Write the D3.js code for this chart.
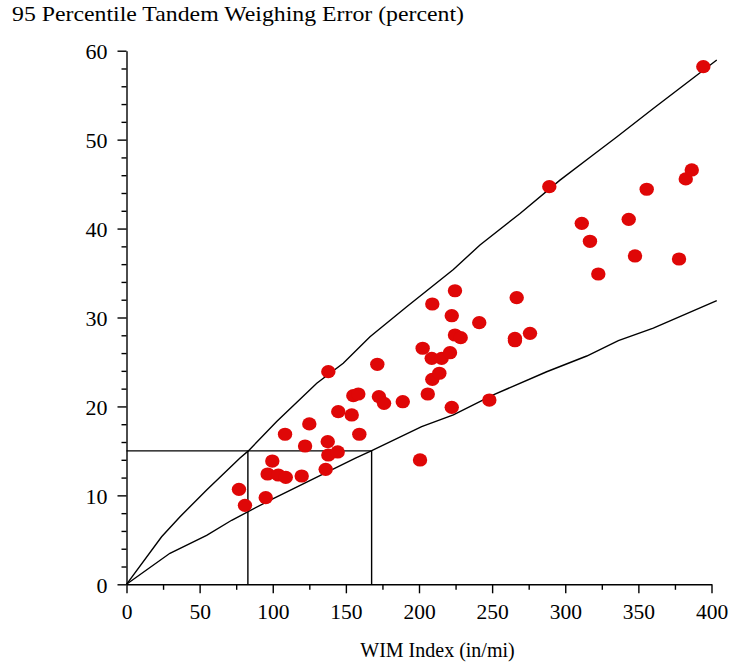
<!DOCTYPE html>
<html>
<head>
<meta charset="utf-8">
<script src="https://cdn.jsdelivr.net/npm/d3@7"></script>
<style>
  body { margin: 0; background: #fff; }
  text { font-family: "Liberation Serif", "Times New Roman", serif; fill: #000; }
</style>
</head>
<body>
<div class="chart"></div>
<script>
// measured points
var wimIndex = [76.9, 81.0, 95.2, 99.7, 96.5, 103.8, 108.9, 119.8, 122.1, 136.2,
  138.0, 144.4, 137.6, 108.4, 125.0, 144.8, 154.0, 155.1, 158.5, 159.2,
  138.0, 171.5, 172.6, 176.1, 188.9, 202.5, 200.7, 206.0, 209.1, 213.9,
  208.7, 215.5, 221.2, 209.1, 222.4, 224.6, 224.6, 228.5, 222.4, 241.2,
  248.1, 266.8, 265.6, 265.6, 275.9, 289.1, 311.3, 316.9, 322.6, 343.4,
  347.7, 355.7, 377.8, 382.4, 386.5, 394.4];
var errorPct = [10.68, 8.88, 9.74, 13.86, 12.40, 12.29, 12.03, 12.18, 15.55, 12.93,
  14.54, 14.88, 16.04, 16.87, 18.03, 19.41, 19.04, 21.21, 21.40, 16.87,
  23.91, 24.74, 21.10, 20.35, 20.53, 26.54, 13.98, 21.40, 23.05, 23.73,
  25.41, 25.41, 26.04, 31.52, 30.20, 33.01, 28.03, 27.73, 19.90, 29.42,
  20.72, 32.23, 27.66, 27.39, 28.22, 44.71, 40.59, 38.57, 34.89, 41.04,
  36.92, 44.42, 36.58, 45.58, 46.59, 58.20];

// upper and lower limit curves
var upperX = [0, 24, 36.6, 54.8, 77.6, 83.3, 102.7, 130.1, 148.2, 166.5, 191.6,
  223.5, 241.7, 269.1, 296.4, 319.2, 335.2, 360.2, 403.6];
var upperY = [0, 5.35, 7.6, 10.6, 14.2, 15.0, 18.3, 22.6, 24.85, 27.84, 31.2,
  35.4, 38.15, 41.7, 45.45, 48.3, 50.3, 53.5, 58.96];
var lowerX = [0, 29.7, 54.8, 71.9, 99.3, 156.2, 167.7, 201.8, 223.5, 250.8,
  287.3, 314.7, 336.3, 360.2, 403.6];
var lowerY = [0, 3.49, 5.5, 7.2, 9.56, 14.17, 15.02, 17.72, 19.04, 21.3,
  23.9, 25.67, 27.4, 28.8, 31.9];

// reference box
var refError = 15;
var refIndexLow = 83;
var refIndexHigh = 167.6;

var xTicks = [0, 50, 100, 150, 200, 250, 300, 350, 400];
var yTicks = [0, 10, 20, 30, 40, 50, 60];

var svgWidth = 729, svgHeight = 663;

var svg = d3.select(".chart")
  .append("svg")
  .attr("width", svgWidth)
  .attr("height", svgHeight);

var x = d3.scaleLinear().domain([0, 400]).range([126.5, 711.5]);
var y = d3.scaleLinear().domain([0, 60]).range([584.3, 50.7]);

// minor ticks
svg.append("g")
  .attr("transform", "translate(0," + y(0) + ")")
  .call(d3.axisBottom(x).tickValues(d3.range(25, 400, 50)).tickSize(5.5).tickFormat(""))
  .call(function(g) { g.select(".domain").remove(); });
svg.append("g")
  .attr("transform", "translate(" + x(0) + ",0)")
  .call(d3.axisLeft(y).tickValues(d3.range(0, 61, 2).filter(function(d) { return d % 10; }))
    .tickSize(5).tickFormat(""))
  .call(function(g) { g.select(".domain").remove(); });

// main axes
var xAxis = svg.append("g")
  .attr("transform", "translate(0," + y(0) + ")")
  .call(d3.axisBottom(x).tickValues(xTicks).tickSize(9).tickSizeOuter(0).tickPadding(10));
var yAxis = svg.append("g")
  .attr("transform", "translate(" + x(0) + ",0)")
  .call(d3.axisLeft(y).tickValues(yTicks).tickSize(9).tickSizeOuter(0).tickPadding(10));

svg.selectAll(".tick line, .domain")
  .attr("stroke", "#000")
  .attr("stroke-width", 1.4);
xAxis.selectAll("text").attr("font-size", 21.5).attr("font-family", "Liberation Serif");
yAxis.selectAll("text").attr("font-size", 22).attr("font-family", "Liberation Serif")
  .attr("dy", "0.35em");

// reference box
svg.append("path")
  .attr("d", "M" + x(0) + "," + y(refError) + "H" + x(refIndexHigh) + "V" + y(0)
    + "M" + x(refIndexLow) + "," + y(refError) + "V" + y(0))
  .attr("fill", "none")
  .attr("stroke", "#000")
  .attr("stroke-width", 1.4);

var line = d3.line()
  .x(function(d) { return x(d[0]); })
  .y(function(d) { return y(d[1]); });

svg.append("path")
  .datum(d3.zip(upperX, upperY))
  .attr("d", line)
  .attr("fill", "none")
  .attr("stroke", "#000")
  .attr("stroke-width", 1.4);

svg.append("path")
  .datum(d3.zip(lowerX, lowerY))
  .attr("d", line)
  .attr("fill", "none")
  .attr("stroke", "#000")
  .attr("stroke-width", 1.4);

// data points
svg.append("g")
  .selectAll("ellipse")
  .data(d3.zip(wimIndex, errorPct))
  .enter()
  .append("ellipse")
  .attr("cx", function(d) { return x(d[0]); })
  .attr("cy", function(d) { return y(d[1]); })
  .attr("rx", 7.2)
  .attr("ry", 6.6)
  .attr("fill", "#df0707");

// titles
svg.append("text")
  .attr("x", 12)
  .attr("y", 21)
  .attr("font-size", 21)
  .attr("textLength", 452)
  .attr("lengthAdjust", "spacingAndGlyphs")
  .text("95 Percentile Tandem Weighing Error (percent)");

svg.append("text")
  .attr("x", 437.5)
  .attr("y", 657)
  .attr("text-anchor", "middle")
  .attr("font-size", 20)
  .text("WIM Index (in/mi)");
</script>
</body>
</html>
